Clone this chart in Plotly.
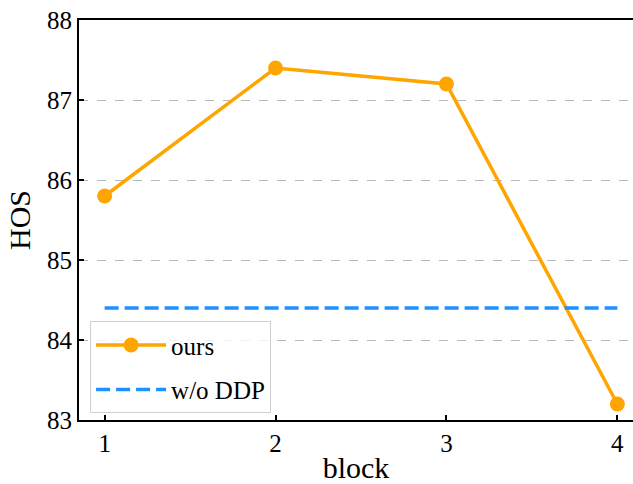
import plotly.graph_objects as go

blocks = [1, 2, 3, 4]
ours = [85.8, 87.4, 87.2, 83.2]
baseline = [84.4, 84.4, 84.4, 84.4]
y_ticks = [83, 84, 85, 86, 87, 88]

fig = go.Figure()
fig.add_trace(go.Scatter(
    x=blocks, y=ours, name="ours", mode="lines+markers", legendgroup="a",
    line=dict(color="#FFA500", width=3.5),
    marker=dict(color="#FFA500", size=15),
))
fig.add_trace(go.Scatter(
    x=blocks, y=baseline, name="w/o DDP", mode="lines", legendgroup="b",
    line=dict(color="#1E90FF", width=3.5, dash="14px,6px"),
))

font = "Liberation Serif, Times New Roman, serif"
fig.update_layout(
    width=633, height=484,
    margin=dict(l=79, r=0, t=20, b=60),
    plot_bgcolor="white", paper_bgcolor="white",
    font=dict(family=font, color="black", size=25),
    showlegend=True,
    legend=dict(
        x=0.02, y=0.017, xanchor="left", yanchor="bottom",
        bgcolor="rgba(255,255,255,0.8)", bordercolor="#d0d0d0", borderwidth=1,
        font=dict(family=font, size=25, color="black"),
        itemwidth=70, tracegroupgap=9, traceorder="grouped",
    ),
)
fig.update_xaxes(
    range=[0.85, 4.0915], tickvals=blocks, ticktext=[str(b) for b in blocks],
    showline=True, linecolor="black", linewidth=2, mirror=True,
    ticks="inside", ticklen=5, tickwidth=1.5, tickcolor="black",
    showgrid=False, zeroline=False,
    title=dict(text="block", font=dict(family=font, size=30), standoff=6),
    tickfont=dict(family=font, size=25),
)
fig.update_yaxes(
    range=[83, 88], tickvals=y_ticks, ticktext=[str(t) for t in y_ticks],
    showline=True, linecolor="black", linewidth=2, mirror=False,
    ticks="inside", ticklen=5, tickwidth=1.5, tickcolor="black",
    showgrid=True, gridcolor="#b8b8b8", gridwidth=1, griddash="dash",
    zeroline=False,
    title=dict(text="HOS", font=dict(family=font, size=30), standoff=8),
    tickfont=dict(family=font, size=25),
)
fig.write_html("out.html")
